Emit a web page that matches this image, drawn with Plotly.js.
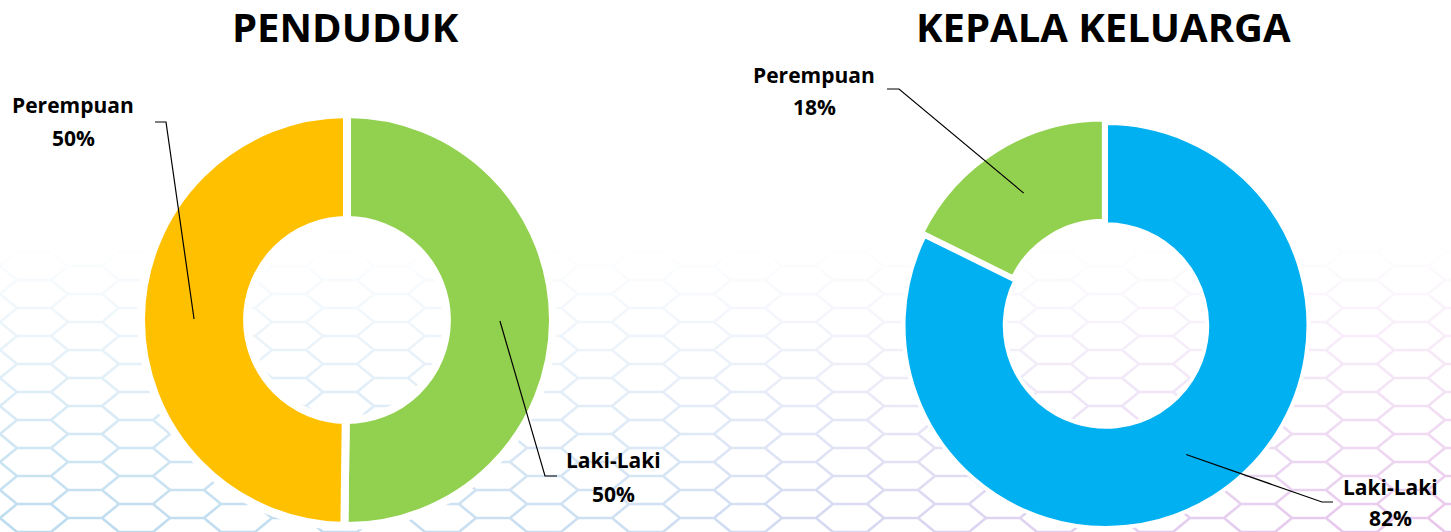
<!DOCTYPE html>
<html>
<head>
<meta charset="utf-8">
<script src="https://cdn.plot.ly/plotly-3.0.1.min.js"></script>
<style>
  html, body { margin: 0; padding: 0; width: 1451px; height: 532px; overflow: hidden; background: #ffffff; }
  #fade { position: absolute; left: 0; top: 0; width: 1451px; height: 532px;
    -webkit-mask-image: linear-gradient(to bottom, rgba(0,0,0,0) 46%, rgba(0,0,0,0.35) 70%, rgba(0,0,0,0.8) 100%);
    mask-image: linear-gradient(to bottom, rgba(0,0,0,0) 46%, rgba(0,0,0,0.35) 70%, rgba(0,0,0,0.8) 100%); }
  #hex { position: absolute; left: 0; top: 0; width: 100%; height: 100%;
    background: linear-gradient(to right, #a9d2ea 0%, #bfd6ee 45%, #d9c3ec 75%, #e3b6e6 100%); }
  #chart { position: absolute; left: 0; top: 0; width: 1451px; height: 532px; }
</style>
</head>
<body>
<div id="fade"><div id="hex"></div></div>
<div id="chart"></div>
<script>
// ---------- data ----------
const titles = ['PENDUDUK', 'KEPALA KELUARGA'];
const pendudukLabels = ['Laki-Laki', 'Perempuan'];
const pendudukValues = [50.2, 49.8];
const kkLabels = ['Laki-Laki', 'Perempuan'];
const kkValues = [82.3, 17.7];

// ---------- styling / layout constants ----------
const W = 1451, H = 532;
const pendudukColors = ['#92D050', '#FFC000'];
const kkColors = ['#00B0F0', '#92D050'];
const FONT = '"Open Sans", "DejaVu Sans", sans-serif';

// hex background pattern (decoration)
(function () {
  const s = 34, h = 28;
  const path = `M0,${h/2} L${s/2},0 L${3*s/2},0 L${2*s},${h/2} L${3*s/2},${h} L${s/2},${h} Z M${2*s},${h/2} L${3*s},${h/2}`;
  const svg = `<svg xmlns='http://www.w3.org/2000/svg' width='${3*s}' height='${h}'><path d='${path}' fill='none' stroke='black' stroke-width='2.6'/></svg>`;
  const url = 'url("data:image/svg+xml;utf8,' + encodeURIComponent(svg) + '")';
  const el = document.getElementById('hex');
  el.style.webkitMaskImage = url;
  el.style.maskImage = url;
  el.style.webkitMaskSize = (3*s) + 'px ' + h + 'px';
  el.style.maskSize = (3*s) + 'px ' + h + 'px';
})();

const pies = [
  { labels: pendudukLabels, values: pendudukValues, colors: pendudukColors,
    domain: { x: [141 / W, 553 / W], y: [1 - 526 / H, 1 - 114 / H] },
    hole: 0.485, lineWidth: 8, pull: [0, 0],
    labelPos: [ // text centre x, name y, pct y, leader elbow, leader end (pixels)
      { x: 613, y1: 460, y2: 494, elbow: [545, 476], end: [557, 476] },
      { x: 73, y1: 105, y2: 138, elbow: [166, 122], end: [155, 122] }
    ],
    title: { x: 345, y: 27 } },
  { labels: kkLabels, values: kkValues, colors: kkColors,
    domain: { x: [(1106 - 206.5) / W, (1106 + 206.5) / W], y: [0, 413 / H] },
    hole: 0.5, lineWidth: 4, pull: [0, 0.02],
    labelPos: [
      { x: 1390, y1: 487, y2: 518, elbow: [1322, 502], end: [1333, 502] },
      { x: 814, y1: 75, y2: 107, elbow: [899, 89], end: [887, 89] }
    ],
    title: { x: 1103, y: 27 } }
];

const traces = [];
const annotations = [];
const shapes = [];

pies.forEach(p => {
  traces.push({
    type: 'pie', labels: p.labels, values: p.values, hole: p.hole,
    sort: false, direction: 'clockwise', rotation: 0,
    pull: p.pull, textinfo: 'none', hoverinfo: 'label+percent',
    marker: { colors: p.colors, line: { color: '#ffffff', width: p.lineWidth } },
    domain: p.domain, showlegend: false
  });

  // geometry as Plotly computes it (margins are 0)
  const maxPull = Math.max.apply(null, p.pull);
  const bw = W * (p.domain.x[1] - p.domain.x[0]);
  const bh = H * (p.domain.y[1] - p.domain.y[0]);
  const r = Math.min(bw, bh) / 2 / (1 + maxPull);
  const cx = W * (p.domain.x[0] + p.domain.x[1]) / 2;
  const cy = H * (1 - p.domain.y[0]) - bh / 2;
  const total = p.values.reduce((a, b) => a + b, 0);

  let cum = 0;
  p.values.forEach((v, i) => {
    const f0 = cum / total; cum += v; const f1 = cum / total;
    const theta = (f0 + f1) / 2 * 2 * Math.PI; // clockwise from top
    const sx = Math.sin(theta), sy = -Math.cos(theta);
    const pullPx = (p.pull[i] || 0) * r;
    const R = r * (1 + p.hole) / 2;
    const ax = cx + pullPx * sx + R * sx;
    const ay = cy + pullPx * sy + R * sy;
    const L = p.labelPos[i];
    const toPX = x => x / W, toPY = y => 1 - y / H;
    shapes.push({
      type: 'path', xref: 'paper', yref: 'paper',
      path: `M${toPX(ax)},${toPY(ay)} L${toPX(L.elbow[0])},${toPY(L.elbow[1])} L${toPX(L.end[0])},${toPY(L.end[1])}`,
      line: { color: '#000000', width: 1.2 }
    });
    const pct = Math.round(v / total * 100) + '%';
    annotations.push({ xref: 'paper', yref: 'paper', x: toPX(L.x), y: toPY(L.y1), xanchor: 'center', yanchor: 'middle',
      text: '<b>' + p.labels[i] + '</b>', showarrow: false, font: { family: FONT, size: 21, color: '#000000' } });
    annotations.push({ xref: 'paper', yref: 'paper', x: toPX(L.x), y: toPY(L.y2), xanchor: 'center', yanchor: 'middle',
      text: '<b>' + pct + '</b>', showarrow: false, font: { family: FONT, size: 21, color: '#000000' } });
  });
});

titles.forEach((t, i) => {
  annotations.push({ xref: 'paper', yref: 'paper', x: pies[i].title.x / W, y: 1 - pies[i].title.y / H,
    xanchor: 'center', yanchor: 'middle', text: '<b>' + t + '</b>', showarrow: false,
    font: { family: FONT, size: 40, color: '#000000' } });
});

Plotly.newPlot('chart', traces, {
  width: W, height: H,
  margin: { l: 0, r: 0, t: 0, b: 0, autoexpand: false },
  paper_bgcolor: 'rgba(0,0,0,0)', plot_bgcolor: 'rgba(0,0,0,0)',
  showlegend: false, annotations: annotations, shapes: shapes
}, { displayModeBar: false, staticPlot: true });
</script>
</body>
</html>
